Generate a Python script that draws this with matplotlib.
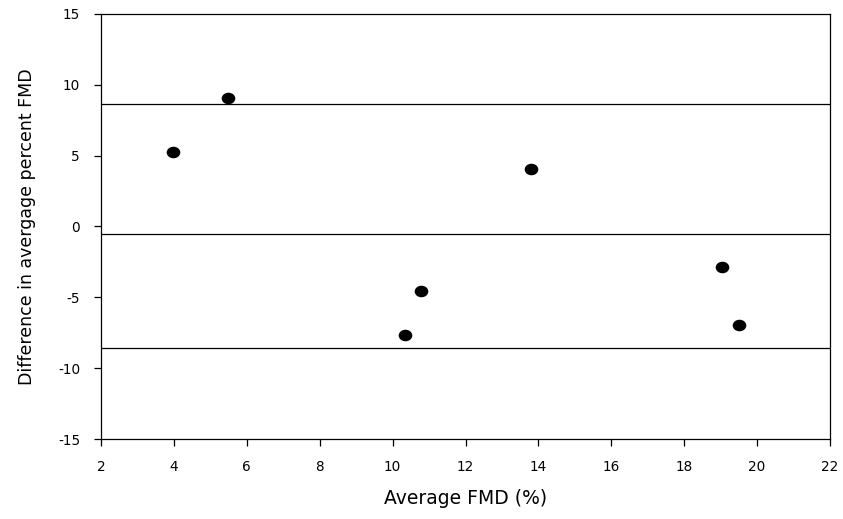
import matplotlib.pyplot as plt
from matplotlib.path import Path

plt.rcParams['font.family'] = ['DejaVu Sans']
plt.rcParams['axes.unicode_minus'] = False

# Bland-Altman style agreement plot for FMD
avg_fmd = [3.98, 5.48, 13.79, 10.78, 10.34, 19.03, 19.49]
diff_fmd = [5.25, 9.06, 4.03, -4.56, -7.66, -2.84, -6.95]
mean_diff = -0.56
upper_loa = 8.61
lower_loa = -8.59

xticks = [2, 4, 6, 8, 10, 12, 14, 16, 18, 20, 22]
yticks = [-15, -10, -5, 0, 5, 10, 15]

# slightly flattened dot
circ = Path.unit_circle()
dot = Path(circ.vertices * [1.0, 0.83], circ.codes)

fig = plt.figure(figsize=(8.43, 5.19), dpi=100)
ax = fig.add_axes([0.1198, 0.1536, 0.8648, 0.82])

for yv in (upper_loa, mean_diff, lower_loa):
    ax.axhline(yv, color='black', linewidth=0.9, zorder=1)

ax.plot(avg_fmd, diff_fmd, linestyle='none', marker=dot, color='black',
        markersize=8.8, zorder=3)

ax.set_xlim(2, 22)
ax.set_ylim(-15, 15)
ax.set_xticks(xticks)
ax.set_yticks(yticks)
ax.tick_params(direction='out', length=5, width=0.9, labelsize=9.8, pad=10)
for s in ax.spines.values():
    s.set_linewidth(0.9)

ax.set_xlabel('Average FMD (%)', fontsize=13.5, labelpad=11)
ax.set_ylabel('Difference in avergage percent FMD', fontsize=12.5, labelpad=16)

fig.savefig('out.png', dpi=100)
